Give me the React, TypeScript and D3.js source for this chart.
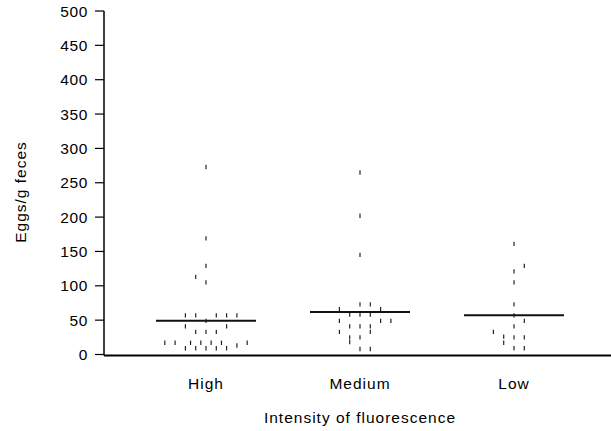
import React from "react";
import * as d3 from "d3";

const categories = ["High", "Medium", "Low"];

// values and column offsets per point
const highValues = [273, 169, 129, 113, 105, 57, 57, 57, 57, 57, 49, 41, 41, 33, 33, 33, 17, 17, 17, 17, 17, 17, 17, 13, 9, 9, 9, 9, 9];
const highOffsets = [0, 0, 0, -1, 0, -2, -1, 1, 2, 3, 0, -2, 2, -1, 0, 1, -4, -3, -1.5, -0.5, 0.5, 1.5, 4, 3, -2, -1, 0, 1, 2];

const mediumValues = [265, 202, 145, 73, 73, 66, 66, 58, 58, 58, 49, 49, 49, 41, 41, 41, 33, 33, 25, 25, 18, 8, 8];
const mediumOffsets = [0, 0, 0, 0, 1, -2, 2, -1, 0, 1, -2, 2, 3, -1, 0, 1, -2, 1, -1, 0, -1, 0, 1];

const lowValues = [161, 129, 121, 105, 73, 57, 49, 41, 33, 26, 17, 25, 25, 9, 9];
const lowOffsets = [0, 1, 0, 0, 0, 0, 1, 0, -2, -1, -1, 0, 1, 0, 1];

const means = [49, 62, 57];
const yTicks = [0, 50, 100, 150, 200, 250, 300, 350, 400, 450, 500];

const seriesValues = [highValues, mediumValues, lowValues];
const seriesOffsets = [highOffsets, mediumOffsets, lowOffsets];

export default function App() {
  const W = 611, H = 431;
  const axisX = 104;
  const y = d3.scaleLinear().domain([0, 500]).range([354.5, 11]);
  const x = d3.scalePoint<string>().domain(categories).range([206, 514]);
  const slot = 10.3;
  const font = "'Liberation Sans', Arial, sans-serif";
  const fs = 15.5;
  const ls = 1;
  const meanHalf = 50;

  return (
    <svg width={W} height={H} style={{ position: "absolute", left: 0, top: 0, background: "#fff" }} fontFamily={font}>
      {/* y axis */}
      <line x1={axisX} x2={axisX} y1={y(500)} y2={y(0) + 1} stroke="#000" strokeWidth={1.5} />
      {yTicks.map((t) => (
        <g key={t}>
          <line x1={axisX - 9} x2={axisX} y1={y(t)} y2={y(t)} stroke="#000" strokeWidth={1.2} />
          <text x={axisX - 16} y={y(t)} dy="0.36em" textAnchor="end" fontSize={fs} letterSpacing={0.6} fill="#000">
            {t}
          </text>
        </g>
      ))}
      {/* x axis */}
      <line x1={axisX} x2={W} y1={y(0) + 1} y2={y(0) + 1} stroke="#000" strokeWidth={2} />
      {categories.map((c) => (
        <text key={c} x={x(c)} y={389} textAnchor="middle" fontSize={fs} letterSpacing={ls} fill="#000">
          {c}
        </text>
      ))}
      <text x={360} y={423} textAnchor="middle" fontSize={fs} letterSpacing={ls} fill="#000">
        Intensity of fluorescence
      </text>
      <text transform={`translate(26,${192}) rotate(-90)`} textAnchor="middle" fontSize={fs} letterSpacing={ls} fill="#000">
        Eggs/g feces
      </text>
      {/* points */}
      {categories.map((c, ci) =>
        seriesValues[ci].map((v, i) => {
          const px = (x(c) as number) + seriesOffsets[ci][i] * slot;
          const py = y(v);
          return <line key={c + i} x1={px} x2={px} y1={py - 2.2} y2={py + 2.2} stroke="#222" strokeWidth={1.2} />;
        })
      )}
      {/* means */}
      {categories.map((c, ci) => (
        <line key={"m" + c} x1={(x(c) as number) - meanHalf} x2={(x(c) as number) + meanHalf} y1={y(means[ci])} y2={y(means[ci])} stroke="#111" strokeWidth={2} />
      ))}
    </svg>
  );
}
